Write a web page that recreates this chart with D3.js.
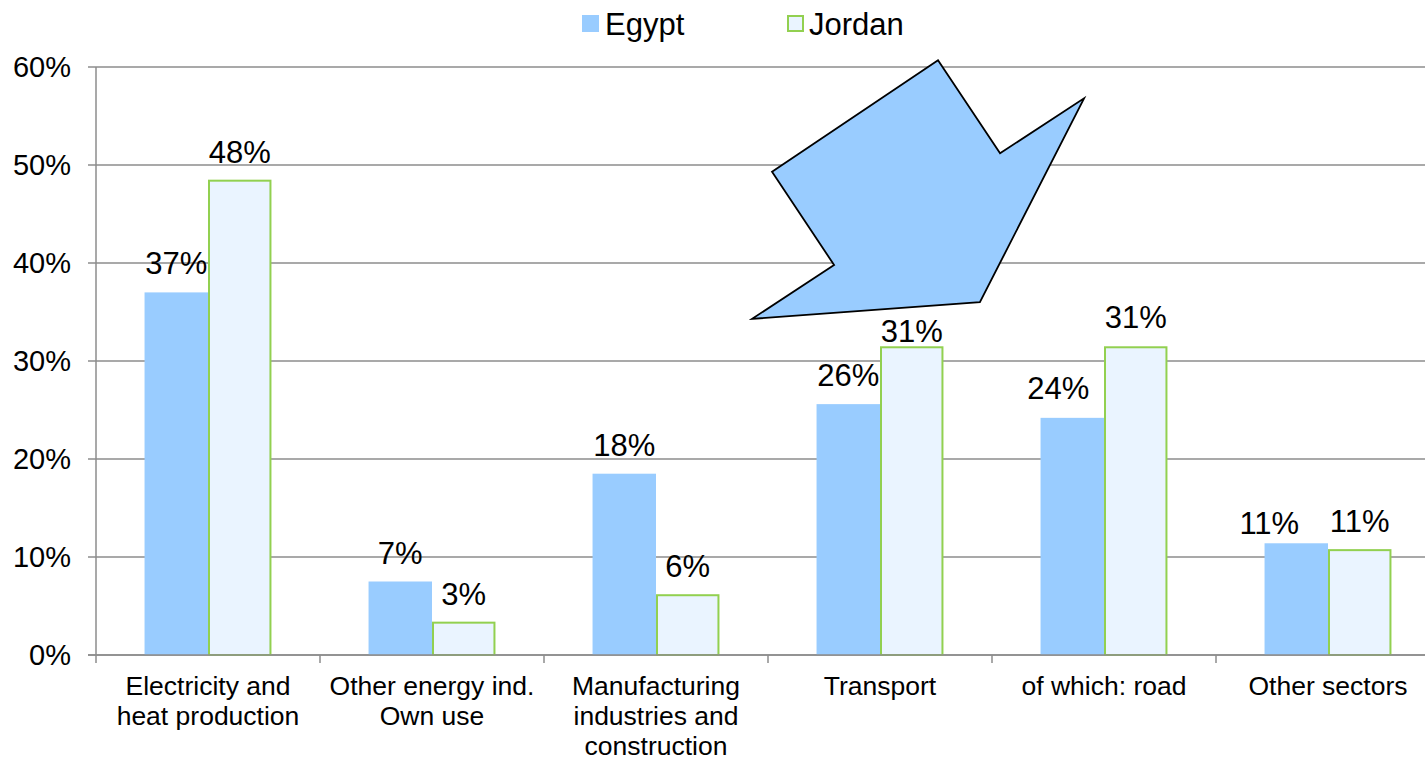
<!DOCTYPE html>
<html><head><meta charset="utf-8">
<script src="https://cdn.jsdelivr.net/npm/d3@7"></script>
<style>body{margin:0;background:#fff}svg{display:block;font-family:"Liberation Sans",Arial,sans-serif}</style>
</head><body><svg id="c" width="1425" height="759"></svg>
<script>
const categories = [["Electricity and","heat production"],["Other energy ind.","Own use"],["Manufacturing","industries and","construction"],["Transport"],["of which: road"],["Other sectors"]];
const seriesNames = ["Egypt","Jordan"];
const egypt = [37.0, 7.5, 18.5, 25.6, 24.2, 11.4];
const jordan = [48.4, 3.3, 6.1, 31.4, 31.4, 10.7];
const egyptLabels = ["37%","7%","18%","26%","24%","11%"];
const jordanLabels = ["48%","3%","6%","31%","31%","11%"];
const yTicks = [0,10,20,30,40,50,60];
// annotation arrow in chart units (x: category band units, y: percent)
const arrowX = [3.759, 4.036, 4.411, 3.946, 2.929, 3.295, 3.018];
const arrowY = [60.7, 51.2, 56.8, 36.0, 34.3, 39.8, 49.3];

(function(){
const svg = d3.select("#c");
const mL = 96, mR = 1440, mT = 67, mB = 655;
// label layout nudges (px) to mimic the original's overlap avoidance
const nudgeX = {Egypt:[0,0,0,0,-14,-27], Jordan:[0,0,0,0,0,0]};
const gapY = {Egypt:[18,18,18,18,19,9], Jordan:[18,18,18,5,19,18]};
const x = d3.scaleBand().domain(d3.range(categories.length)).range([mL, mR]);
const x1 = d3.scaleBand().domain(seriesNames).range([0, x.bandwidth()]).paddingOuter(0.765);
const y = d3.scaleLinear().domain([0, 60]).range([mB, mT]);
const xu = d3.scaleLinear().domain([0, categories.length]).range([mL, mR]);
const colors = {Egypt:"#99CCFF", Jordan:"#EAF4FF"};

svg.append("g").selectAll("line").data(yTicks).join("line")
  .attr("x1", mL - 8).attr("x2", 1425).attr("y1", d=>y(d)).attr("y2", d=>y(d))
  .attr("stroke", "#8c8c8c").attr("stroke-width", 1.5);
svg.append("g").selectAll("text").data(yTicks).join("text")
  .attr("x", 71).attr("y", d=>y(d)).attr("dy","0.36em").attr("text-anchor","end")
  .attr("font-size", 29).attr("fill","#000").text(d=>d+"%");
svg.append("line").attr("x1", mL).attr("x2", mL).attr("y1", mT).attr("y2", mB+8)
  .attr("stroke","#8c8c8c").attr("stroke-width",1.5);
svg.append("g").selectAll("line").data(d3.range(1, categories.length+1)).join("line")
  .attr("x1", d=>xu(d)).attr("x2", d=>xu(d)).attr("y1", mB).attr("y2", mB+8)
  .attr("stroke","#8c8c8c").attr("stroke-width",1.5);

const g = svg.append("g");
categories.forEach((c, i) => {
  const vals = [egypt[i], jordan[i]];
  const labs = [egyptLabels[i], jordanLabels[i]];
  seriesNames.forEach((s, j) => {
    const bx = x(i) + x1(s);
    const w = x1.bandwidth();
    if (s === "Jordan") {
      g.append("rect").attr("x", bx+1).attr("y", y(vals[j])).attr("width", w-2).attr("height", mB - y(vals[j]))
        .attr("fill", colors[s]).attr("stroke","#92D050").attr("stroke-width",2);
    } else {
      g.append("rect").attr("x", bx).attr("y", y(vals[j])).attr("width", w).attr("height", mB - y(vals[j]))
        .attr("fill", colors[s]);
    }
    g.append("text").attr("x", bx + w/2 + nudgeX[s][i]).attr("y", y(vals[j]) - gapY[s][i]).attr("text-anchor","middle")
      .attr("font-size", 31).attr("fill","#000").text(labs[j]);
  });
  const t = svg.append("text").attr("text-anchor","middle").attr("font-size",26.5).attr("fill","#000");
  c.forEach((line, k) => t.append("tspan").attr("x", x(i) + x.bandwidth()/2).attr("y", 695 + k*30).text(line));
});

svg.append("line").attr("x1", mL-8).attr("x2", 1425).attr("y1", mB).attr("y2", mB)
  .attr("stroke","#8c8c8c").attr("stroke-width",1.5);

svg.append("polygon")
  .attr("points", arrowX.map((v,k)=>[xu(v), y(arrowY[k])].join(",")).join(" "))
  .attr("fill","#99CCFF").attr("stroke","#000").attr("stroke-width",1.8).attr("stroke-linejoin","miter");

const leg = svg.append("g");
leg.append("rect").attr("x",582).attr("y",15).attr("width",17).attr("height",17).attr("fill",colors.Egypt);
leg.append("text").attr("x",605).attr("y",35).attr("font-size",31).text("Egypt");
leg.append("rect").attr("x",788).attr("y",16).attr("width",15).attr("height",15).attr("fill",colors.Jordan)
  .attr("stroke","#92D050").attr("stroke-width",2);
leg.append("text").attr("x",809).attr("y",35).attr("font-size",31).text("Jordan");
})();
</script></body></html>
